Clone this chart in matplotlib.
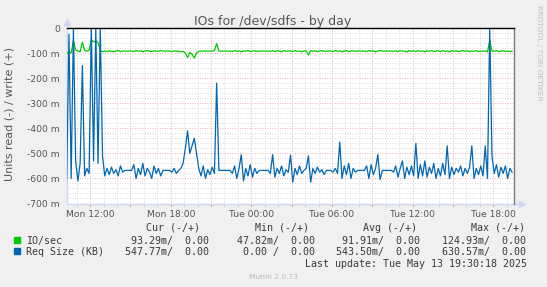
"""
Munin 디스크 IO 일간 그래프 재현 (/dev/sdfs)
"""

import numpy as np
import matplotlib
matplotlib.use('Agg')
import matplotlib.pyplot as plt
from matplotlib.patches import Rectangle
from matplotlib.ticker import FixedLocator, FuncFormatter

W, H = 547, 287

# 샘플 시각 (월요일 00:00 기준 시간 단위, 10분 간격)
START_HOUR = 10.25
STEP_HOUR = 1 / 6

# 읽기 IO/sec (단위 m)
IO_READ = [
    103, 95, 100, 50, 88, 92, 95, 56, 90, 93,
    88, 47, 55, 52, 58, 90, 95, 92, 94, 91,
    93, 95, 92, 90, 94, 92, 92, 92, 92, 92,
    94, 90, 93, 91, 95, 92, 90, 93, 94, 91,
    92, 93, 90, 92, 92, 92, 92, 94, 91, 93,
    92, 95, 93, 100, 118, 98, 105, 120, 100, 93,
    92, 92, 92, 92, 92, 92, 90, 62, 92, 92,
    92, 92, 92, 92, 94, 90, 93, 92, 95, 91,
    93, 90, 94, 92, 91, 93, 92, 92, 92, 92,
    92, 93, 90, 94, 91, 92, 95, 90, 93, 92,
    91, 94, 90, 93, 92, 95, 92, 91, 108, 90,
    93, 91, 94, 92, 90, 93, 92, 92, 92, 94,
    90, 93, 91, 95, 92, 90, 94, 92, 91, 93,
    92, 92, 92, 92, 94, 90, 93, 91, 95, 92,
    90, 92, 92, 92, 92, 92, 93, 91, 94, 90,
    93, 92, 96, 90, 93, 91, 94, 90, 93, 92,
    95, 91, 93, 90, 94, 92, 91, 94, 90, 93,
    92, 95, 90, 93, 91, 94, 92, 90, 93, 91,
    94, 92, 93, 90, 94, 92, 93, 91, 95, 50,
    92, 93, 90, 94, 92, 91, 93, 92, 94, 92,
]

# 읽기 요청 크기 Req Size (KB, 단위 m)
REQ_READ = [
    600, 25, 600, 0, 530, 610, 540, 150, 590, 560,
    580, 0, 530, 0, 540, 0, 510, 590, 560, 585,
    555, 580, 565, 590, 550, 575, 568, 568, 568, 568,
    545, 600, 560, 585, 540, 590, 560, 575, 600, 550,
    580, 560, 590, 568, 568, 568, 568, 575, 560, 580,
    568, 560, 540, 480, 410, 500, 470, 440, 500, 560,
    590, 550, 600, 565, 585, 555, 580, 220, 568, 568,
    568, 568, 568, 568, 580, 550, 600, 560, 505, 610,
    560, 590, 545, 595, 560, 580, 568, 568, 568, 568,
    568, 580, 505, 595, 560, 580, 550, 590, 565, 575,
    507, 615, 560, 585, 550, 580, 568, 560, 510, 615,
    560, 580, 555, 575, 565, 585, 568, 568, 568, 575,
    560, 580, 455, 600, 550, 585, 540, 600, 560, 575,
    568, 568, 568, 568, 550, 600, 545, 585, 560, 505,
    605, 568, 568, 568, 568, 568, 575, 550, 595, 560,
    530, 600, 555, 585, 550, 590, 460, 600, 545, 590,
    530, 595, 555, 580, 540, 600, 560, 590, 540, 585,
    470, 600, 555, 585, 560, 575, 550, 590, 560, 580,
    555, 470, 600, 560, 585, 550, 590, 470, 600, 0,
    510, 580, 545, 595, 555, 580, 550, 600, 560, 575,
]

TICK_HOURS = [12, 18, 24, 30, 36, 42]
TICK_LABELS = ['Mon 12:00', 'Mon 18:00', 'Tue 00:00',
               'Tue 06:00', 'Tue 12:00', 'Tue 18:00']
Y_TICKS = [0, -0.1, -0.2, -0.3, -0.4, -0.5, -0.6, -0.7]

SERIES_NAMES = ['IO/sec', 'Req Size (KB)']
SERIES_COLORS = ['#00CC00', '#0066B3']
CUR_VALUES = ['93.29m/  0.00', '547.77m/  0.00']
MIN_VALUES = ['47.82m/  0.00', '0.00 /  0.00']
AVG_VALUES = ['91.91m/  0.00', '543.50m/  0.00']
MAX_VALUES = ['124.93m/  0.00', '630.57m/  0.00']

BG = '#F0F0F0'
TEXT = '#555555'
LEGEND_TEXT = '#3a3a3a'
MONO = 'DejaVu Sans Mono'
MAJOR_GRID = '#e49c9c'
MINOR_GRID = '#cfcfcf'


def fx(px):
    return px / W


def fy(py):
    return 1 - py / H


def y_fmt(v, pos):
    if abs(v) < 1e-9:
        return '0'
    return f'{v * 1000:.0f} m'


fig = plt.figure(figsize=(W / 100, H / 100), dpi=100, facecolor=BG)
left, right, top, bottom = 66.7, 514.3, 28, 203.5
ax = fig.add_axes([fx(left), fy(bottom), fx(right - left), (bottom - top) / H])
ax.set_facecolor('white')

hours = START_HOUR + STEP_HOUR * np.arange(len(IO_READ))
ax.set_xlim(10.25, 43.58)
ax.set_ylim(-0.7, 0)

# 그리드 (보조: 회색 점선, 주: 빨간 점선) + 아래쪽 눈금
for h in range(11, 44):
    major = h % 3 == 0
    col = MAJOR_GRID if major else MINOR_GRID
    ax.axvline(h, color=col, lw=0.6, ls=(0, (1, 2)), zorder=1)
    ax.plot([h, h], [0, -0.012], transform=ax.get_xaxis_transform(),
            color=col, lw=0.8, clip_on=False, zorder=2)
for k in range(1, 35):
    v = -k * 0.02
    major = k % 5 == 0
    ax.axhline(v, color=MAJOR_GRID if major else MINOR_GRID,
               lw=0.6, ls=(0, (1, 2)), zorder=1)

# 데이터
ax.plot(hours, -np.array(IO_READ) / 1000, color=SERIES_COLORS[0], lw=0.9, zorder=3)
ax.plot(hours, -np.array(REQ_READ) / 1000, color=SERIES_COLORS[1], lw=0.9, zorder=4)
ax.axhline(0, color='black', lw=1.0, zorder=5, clip_on=False)

# 축
for s in ax.spines.values():
    s.set_visible(False)
ax.xaxis.set_major_locator(FixedLocator(TICK_HOURS))
ax.set_xticklabels(TICK_LABELS)
ax.yaxis.set_major_locator(FixedLocator(Y_TICKS))
ax.yaxis.set_major_formatter(FuncFormatter(y_fmt))
ax.tick_params(length=0, labelsize=6.6, labelcolor=TEXT)
ax.tick_params(axis='x', pad=4.5)
ax.tick_params(axis='y', pad=5)

axis_col = '#CFD6F8'
ax.plot([0, 0], [0, 1.035], transform=ax.transAxes, color=axis_col,
        lw=1, clip_on=False, zorder=2)
ax.plot([0, 1.018], [0, 0], transform=ax.transAxes, color=axis_col,
        lw=1, clip_on=False, zorder=2)
ax.plot([0], [1.035], transform=ax.transAxes, marker='^', ms=4,
        color=axis_col, clip_on=False)
ax.plot([1.018], [0], transform=ax.transAxes, marker='>', ms=4,
        color=axis_col, clip_on=False)
ax.plot([1, 1], [0, 1], transform=ax.transAxes, color='#7a7a7a',
        lw=1, clip_on=False, zorder=2)

# 제목 / 라벨
fig.text(fx(273), fy(24.5), 'IOs for /dev/sdfs - by day', ha='center',
         va='baseline', fontsize=9, color=TEXT)
fig.text(fx(10), fy(114), 'Units read (-) / write (+)', rotation=90,
         ha='center', va='center', fontsize=8, color=TEXT)
fig.text(fx(539), fy(5), 'RRDTOOL / TOBI OETIKER', rotation=270,
         ha='center', va='top', fontsize=5.4, color='#c0c0c0')

# 범례 표
headers = ['Cur (-/+)', 'Min (-/+)', 'Avg (-/+)', 'Max (-/+)']
header_ends = [200, 309, 417, 525]
value_ends = [209, 315, 420.5, 526]
for hd, xe in zip(headers, header_ends):
    fig.text(fx(xe), fy(231), hd, ha='right', va='baseline',
             fontsize=7.2, family=MONO, color=LEGEND_TEXT)

rows_y = [243.6, 255.3]
for i, name in enumerate(SERIES_NAMES):
    yb = rows_y[i]
    fig.patches.append(Rectangle((fx(14), fy(yb - 1)), 6 / W, 6 / H,
                                 transform=fig.transFigure,
                                 color=SERIES_COLORS[i]))
    fig.text(fx(26), fy(yb), name, ha='left', va='baseline',
             fontsize=7.2, family=MONO, color=LEGEND_TEXT)
    vals = [CUR_VALUES[i], MIN_VALUES[i], AVG_VALUES[i], MAX_VALUES[i]]
    for v, xe in zip(vals, value_ends):
        fig.text(fx(xe), fy(yb), v, ha='right', va='baseline',
                 fontsize=7.2, family=MONO, color=LEGEND_TEXT)

fig.text(fx(527), fy(267), 'Last update: Tue May 13 19:30:18 2025',
         ha='right', va='baseline', fontsize=7.2, family=MONO, color=LEGEND_TEXT)
fig.text(fx(273), fy(279), 'Munin 2.0.73', ha='center', va='baseline',
         fontsize=5.4, color='#bbbbbb')

fig.savefig('out.png', dpi=100, facecolor=BG)
